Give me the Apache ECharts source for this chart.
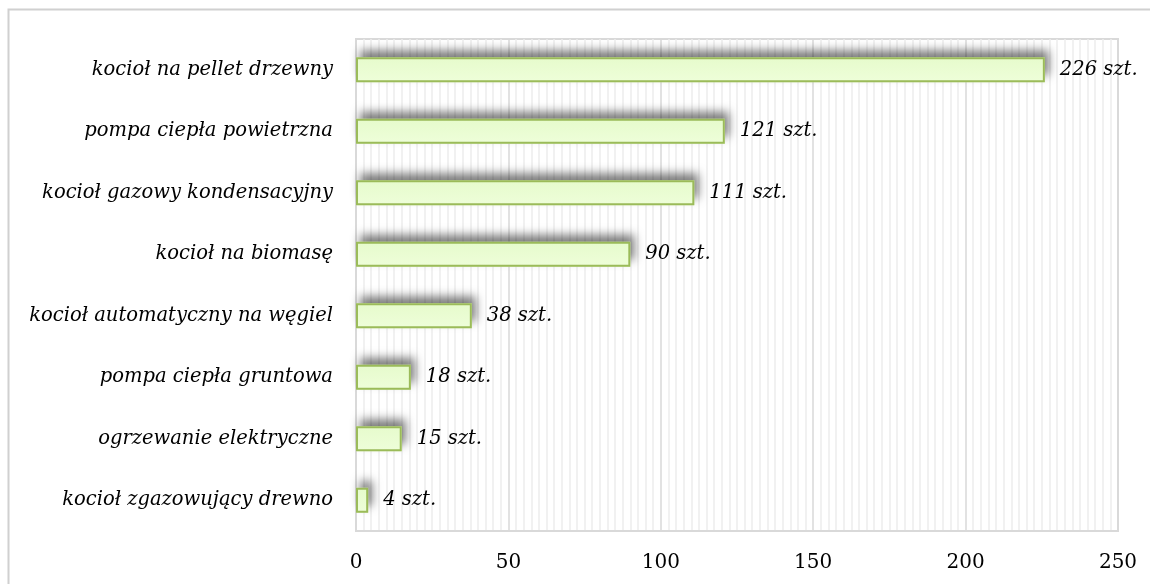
<!DOCTYPE html>
<html>
<head>
<meta charset="utf-8">
<script src="https://cdn.jsdelivr.net/npm/echarts@6/dist/echarts.min.js"></script>
<style>
  html, body { margin: 0; padding: 0; background: #fff; }
  #chart { width: 1150px; height: 584px; }
</style>
</head>
<body>
<div id="chart"></div>
<script>
// kategorie od dołu do góry (oś y w echarts rośnie w górę)
var categories = [
  "kocioł zgazowujący drewno",
  "ogrzewanie elektryczne",
  "pompa ciepła gruntowa",
  "kocioł automatyczny na węgiel",
  "kocioł na biomasę",
  "kocioł gazowy kondensacyjny",
  "pompa ciepła powietrzna",
  "kocioł na pellet drzewny"
];
var values = [4, 15, 18, 38, 90, 111, 121, 226];
var unit = " szt.";

var chart = echarts.init(document.getElementById("chart"));
var serif = "DejaVu Serif, Liberation Serif, serif";

var barFill = new echarts.graphic.LinearGradient(0, 0, 0, 1, [
  { offset: 0, color: "#e6fbcc" },
  { offset: 1, color: "#eefed9" }
]);

var option = {
  animation: false,
  graphic: [
    {
      type: "rect",
      shape: { x: 8.5, y: 9.5, width: 1300, height: 800 },
      style: { fill: "none", stroke: "#d0d0d0", lineWidth: 2 },
      silent: true
    }
  ],
  grid: {
    left: 356,
    top: 39,
    right: 32,
    bottom: 53,
    show: true,
    borderColor: "#d9d9d9",
    borderWidth: 2
  },
  xAxis: {
    type: "value",
    min: 0,
    max: 250,
    interval: 50,
    axisLine: { show: true, lineStyle: { color: "#d9d9d9", width: 2 } },
    axisTick: { show: false },
    axisLabel: {
      color: "#000",
      fontFamily: serif,
      fontSize: 20,
      margin: 22
    },
    splitLine: { show: true, lineStyle: { color: "#d9d9d9", width: 1.5 } },
    minorTick: { show: false, splitNumber: 20 },
    minorSplitLine: { show: true, lineStyle: { color: "#ededed", width: 1.5 } }
  },
  yAxis: {
    type: "category",
    data: categories,
    axisLine: { show: false },
    axisTick: { show: false },
    axisLabel: {
      color: "#000",
      fontFamily: serif,
      fontStyle: "italic",
      fontSize: 19.5,
      margin: 23
    }
  },
  series: [
    {
      // sam cień pod słupkiem
      type: "bar",
      data: values,
      barWidth: 25,
      silent: true,
      itemStyle: {
        color: "#e6fbcc",
        shadowColor: "rgba(0,0,0,0.5)",
        shadowBlur: 10,
        shadowOffsetX: 4,
        shadowOffsetY: -7
      }
    },
    {
      type: "bar",
      data: values,
      barWidth: 25,
      barGap: "-100%",
      itemStyle: {
        color: barFill,
        borderColor: "#9bbb59",
        borderWidth: 2
      },
      label: {
        show: true,
        position: "right",
        distance: 15,
        color: "#000",
        fontFamily: serif,
        fontStyle: "italic",
        fontSize: 19.5,
        formatter: function (p) { return p.value + unit; }
      }
    }
  ]
};

chart.setOption(option);
</script>
</body>
</html>
